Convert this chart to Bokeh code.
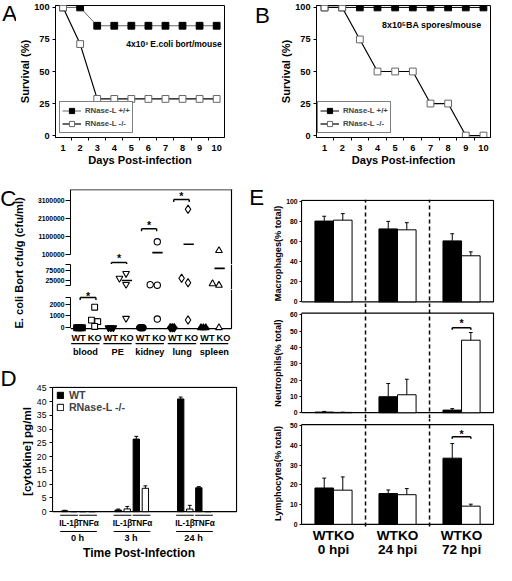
import math
from bokeh.plotting import figure
from bokeh.models import (Range1d, FixedTicker, Label, Legend, LegendItem, Span,
                          NumeralTickFormatter)
from bokeh.layouts import row, column
from bokeh.embed import file_html
from bokeh.resources import INLINE
from bokeh.core.properties import value

# ---------------- data ----------------
days = [1, 2, 3, 4, 5, 6, 7, 8, 9, 10]
surv_ticks = [0, 25, 50, 75, 100]
a_wt = [100, 100, 85.7, 85.7, 85.7, 85.7, 85.7, 85.7, 85.7, 85.7]
a_ko = [100, 71.4, 28.6, 28.6, 28.6, 28.6, 28.6, 28.6, 28.6, 28.6]
b_wt = [100, 100, 100, 100, 100, 100, 100, 100, 100, 100]
b_ko = [100, 100, 75, 50, 50, 50, 25, 25, 0, 0]
legend_labels = ["RNase-L +/+", "RNase-L -/-"]

organs = ["blood", "PE", "kidney", "lung", "spleen"]
genotypes = ["WT", "KO"]
blood_wt = [0, 0, 0, 0]
blood_ko = [1750, 650, 520, 110]
pe_wt = [0, 0, 0]
pe_ko = [36400, 59100, 7300, 795]
kidney_wt = [0, 0, 0]
kidney_ko = [5900, 3600, 809000, 738]
lung_wt = [0, 0, 0]
lung_ko = [36400, 15000, 2630000, 656]
spleen_wt = [0, 0, 0]
spleen_ko = [10500, 3000, 318000, 0]
c_top_ticks = [100000, 1100000, 2100000, 3100000]
c_mid_ticks = [25000, 75000]
c_bot_ticks = [0, 1000, 2000]

d_times = ["0 h", "3 h", "24 h"]
cytokines = ["IL-1\u03b2", "TNF\u03b1"]
d_legend = ["WT", "RNase-L -/-"]
il1b_wt = [0.3, 0.6, 41.0]
il1b_wt_err = [0.2, 0.35, 0.7]
il1b_ko = [0.0, 1.0, 0.95]
il1b_ko_err = [0.0, 0.9, 1.35]
tnf_wt = [0.0, 26.4, 8.7]
tnf_wt_err = [0.0, 1.0, 0.4]
tnf_ko = [0.0, 8.5, 0.0]
tnf_ko_err = [0.0, 0.9, 0.0]
d_ticks = [0, 5, 10, 15, 20, 25, 30, 35, 40, 45]

e_groups = ["0 hpi", "24 hpi", "72 hpi"]
mac_wt = [80.3, 72.5, 60.6]
mac_wt_err = [4.8, 7.5, 7.1]
mac_ko = [81.2, 71.6, 45.8]
mac_ko_err = [6.5, 7.1, 3.9]
neu_wt = [0.4, 9.8, 1.6]
neu_wt_err = [0.4, 8.1, 0.9]
neu_ko = [0.2, 11.0, 44.4]
neu_ko_err = [0.1, 9.5, 4.7]
lym_wt = [18.4, 15.6, 33.5]
lym_wt_err = [5.0, 1.8, 7.4]
lym_ko = [17.3, 15.0, 9.2]
lym_ko_err = [6.7, 3.1, 1.0]
mac_ticks = [0, 20, 40, 60, 80, 100]
neu_ticks = [0, 10, 20, 30, 40, 50, 60]
lym_ticks = [0, 10, 20, 30, 40, 50]
e_sig_level = [52, 44.4]
e_star_level = [56.5, 47]

# ---------------- layout helpers ----------------
K = 496 / 512
def S(v): return int(round(v * K))
def I(v): return int(round(v * K))
def F(px): return "%.1fpx" % (px * K)
FONT = "Liberation Sans"

# reference-pixel -> data maps for each sub plot (axis calibration)
def ctp(y): return 100000 + (261.7 - y) * 54550
def cm(y): return (294.3 - y) * 4545
def cb(y): return (337.7 - y) * 82
def dm(y): return (528 - y) / 2.844
def e1m(y): return (311 - y) / 1.034
def e2m(y): return (426 - y) / 1.695
def e3m(y): return (540.7 - y) / 2.028

def make_fig(w, h, left, right, top, bottom, xr, yr, outline="black", **kw):
    p = figure(width=w, height=h, x_range=xr, y_range=yr,
               min_border_left=left, min_border_right=right,
               min_border_top=top, min_border_bottom=bottom,
               output_backend="svg", toolbar_location=None, **kw)
    p.grid.visible = False
    p.outline_line_color = outline
    p.outline_line_width = 1
    p.background_fill_color = "white"
    p.border_fill_color = "white"
    return p

def blank_fig(w, h, xr=None, left=0, right=0):
    return make_fig(w, h, left, right, 0, 0, xr if xr is not None else Range1d(0, 1),
                    Range1d(0, 1), outline=None, x_axis_location=None, y_axis_location=None)

def style_axis(ax, size, bold=True, tick_out=3, standoff=3):
    ax.axis_line_color = "black"
    ax.axis_line_width = 1
    ax.major_tick_line_color = "black"
    ax.major_tick_out = I(tick_out)
    ax.major_tick_in = 0
    ax.minor_tick_line_color = None
    ax.major_label_text_font = FONT
    ax.major_label_text_font_size = F(size)
    ax.major_label_text_font_style = "bold" if bold else "normal"
    ax.major_label_text_color = "black"
    ax.major_label_standoff = I(standoff)
    ax.axis_label_text_font = FONT
    ax.axis_label_text_font_style = "bold"
    ax.axis_label_text_color = "black"

def label(p, x, y, text, size, bold=True, xu="screen", yu="screen", angle=0.0):
    p.add_layout(Label(x=x, y=y, x_units=xu, y_units=yu, text=text, text_font=FONT,
                       text_font_size=F(size), text_font_style="bold" if bold else "normal",
                       text_align="center", text_baseline="middle", angle=angle,
                       text_color="black"))

def dlabel(p, x, y, text, size):
    label(p, x, y, text, size, xu="data", yu="data")

def hseg(p, x0, x1, y, lw=1.2):
    p.segment(x0=[x0], x1=[x1], y0=[y], y1=[y], line_color="black", line_width=lw)

def err_bars(p, xs, tops, errs, cap_half):
    x0, y0, x1, y1 = [], [], [], []
    for x, t, e in zip(xs, tops, errs):
        if e <= 0:
            continue
        x0 += [x, x - cap_half]; y0 += [t, t + e]
        x1 += [x, x + cap_half]; y1 += [t + e, t + e]
    p.segment(x0=x0, y0=y0, x1=x1, y1=y1, line_color="black", line_width=1)

def bracket(p, x0, x1, lvl, leg, lw=1.5):
    p.segment(x0=[x0, x0, x1], y0=[lvl, lvl, lvl], x1=[x1, x0, x1],
              y1=[lvl, lvl - leg, lvl - leg], line_color="black", line_width=lw)

def star(p, x, y, size, shift=0.27):
    p.text(x=[x], y=[y], text=["*"], text_font=value(FONT), text_font_size=F(size),
           text_font_style="bold", text_align="center", text_baseline="middle",
           y_offset=shift * size * K, text_color="black")

def letter_fig(w, h, letter, cx, cy, left_ref, top_ref):
    p = blank_fig(w, h)
    label(p, (cx - left_ref) * K, h - (cy - top_ref) * K, letter, 23, bold=False)
    return p

# ---------------- panels A & B ----------------
def survival_panel(width, left, right, frame_left_ref, x_start, x_end, wt, ko, wt_line,
                   note, note_ref, note_size, legend_off):
    p = make_fig(width, S(188), left, right, S(5), S(188) - S(141),
                 Range1d(x_start, x_end), Range1d(-1.5, 101.5))
    l1 = p.line(days, wt, line_color=wt_line, line_width=1)
    m1 = p.scatter(days, wt, marker="square", size=7 * K, fill_color="black", line_color="black")
    l2 = p.line(days, ko, line_color="black", line_width=1.2)
    m2 = p.scatter(days, ko, marker="square", size=7 * K, fill_color="white",
                   line_color="#666666", line_width=1)
    xa = p.xaxis[0]
    style_axis(xa, 9.5, True, 0, 4)
    xa.ticker = FixedTicker(ticks=days, minor_ticks=[d + 0.5 for d in days[:-1]])
    xa.major_tick_line_color = None
    xa.minor_tick_line_color = "black"
    xa.minor_tick_out = I(3)
    xa.minor_tick_in = 0
    xa.axis_label = "Days Post-infection"
    xa.axis_label_text_font_size = F(11.5)
    xa.axis_label_standoff = 0
    ya = p.yaxis[0]
    style_axis(ya, 9.5, True, 3, 3)
    ya.ticker = FixedTicker(ticks=surv_ticks)
    ya.axis_label = "Survival (%)"
    ya.axis_label_text_font_size = F(11.5)
    ya.axis_label_standoff = 0
    label(p, (note_ref[0] - frame_left_ref) * K, (141 - note_ref[1]) * K, note, note_size)
    leg = Legend(items=[LegendItem(label=legend_labels[0], renderers=[l1, m1]),
                        LegendItem(label=legend_labels[1], renderers=[l2, m2])],
                 location=(legend_off[0] * K, legend_off[1] * K), orientation="vertical",
                 border_line_color="black", border_line_width=1, background_fill_color="white",
                 background_fill_alpha=1.0, padding=I(2), spacing=0, margin=0,
                 glyph_width=I(20), glyph_height=I(13), label_height=I(11), label_standoff=I(4),
                 label_text_font=FONT, label_text_font_size=F(8), label_text_font_style="bold")
    p.add_layout(leg)
    return p

la = letter_fig(S(17), S(188), "A", 9.5, 13.5, 0, 0)
pa = survival_panel(S(256) - S(17), S(53) - S(17), S(256) - S(231), 53, 0.555, 10.46,
                    a_wt, a_ko, "#666666", "4x10\u00b3 E.coli bort/mouse", (175.3, 44.3), 8.8, (4, 4))
lb = letter_fig(S(280) - S(256), S(188), "B", 270.5, 15, 256, 0)
pb = survival_panel(S(512) - S(280), S(326) - S(280), S(512) - S(506), 326, 0.545, 10.4,
                    b_wt, b_ko, "black", "8x10\u2075BA spores/mouse", (445, 25), 9.2, (1, 4))

# ---------------- panel C ----------------
cx = Range1d(-0.5, 9.56)
CW = S(256) - S(32)
CL = S(72.7) - S(32)
CR = S(256) - S(240)
c_top = make_fig(CW, S(272) - S(188), CL, CR, S(195) - S(188), 0, cx,
                 Range1d(ctp(272), ctp(195)), outline=None, x_axis_location=None)
c_mid = make_fig(CW, S(298) - S(272), CL, CR, 0, 0, cx,
                 Range1d(cm(298), cm(272)), outline=None, x_axis_location=None)
c_bot = make_fig(CW, S(378) - S(298), CL, CR, 0, 0, cx,
                 Range1d(cb(378), cb(298)), outline=None, x_axis_location=None)
c_upp = {id(c_top): 54550, id(c_mid): 4545, id(c_bot): 82}

for p, bounds, ticks, overrides in [
        (c_top, (100000, ctp(195)), c_top_ticks, {}),
        (c_mid, (0, 100000), [0] + c_mid_ticks + [100000], {0: "", 100000: ""}),
        (c_bot, (0, 2540), c_bot_ticks + [2540], {2540: ""})]:
    ya = p.yaxis[0]
    style_axis(ya, 7, True, 5, 1)
    ya.bounds = bounds
    ya.ticker = FixedTicker(ticks=ticks)
    ya.formatter = NumeralTickFormatter(format="0")
    ya.major_label_overrides = overrides
for p in (c_top, c_mid):
    p.add_layout(Span(location=9.5, dimension="height", line_color="black", line_width=1.2))
c_top.add_layout(Span(location=ctp(195), dimension="width", line_color="black", line_width=1.5))
# bottom axis line and right border of the lowest segment
c_axis_y = cb(338.7)
c_bot.segment(x0=[-0.5, 9.5], y0=[c_axis_y, c_axis_y], x1=[9.5, 9.5], y1=[c_axis_y, cb(298)],
              line_color="black", line_width=1.2)

c_wt = [blood_wt, pe_wt, kidney_wt, lung_wt, spleen_wt]
c_ko = [blood_ko, pe_ko, kidney_ko, lung_ko, spleen_ko]
c_wt_dx = [[-0.12, 0.0, 0.12, 0.24], [-0.14, 0.01, 0.16], [-0.2, -0.1, 0.0],
           [-0.3, -0.18, -0.06], [-0.4, -0.25, -0.1]]
c_ko_dx = [[0.0, -0.2, 0.19, 0.0], [-0.46, -0.05, -0.05, -0.05], [-0.55, -0.11, -0.11, -0.11],
           [-0.6, -0.2, -0.2, -0.2], [-0.68, -0.28, -0.28, -0.28]]
c_mean_dx = [0.0, 0.0, -0.1, -0.16, -0.24]
organ_markers = ["square", "inverted_triangle", "circle", "diamond", "triangle"]
organ_sizes = [6, 7, 6.5, 8.5, 7]

def c_panel(v):
    return c_bot if v <= 2540 else (c_mid if v <= 100000 else c_top)

for i in range(5):
    wt_mean = sum(c_wt[i]) / len(c_wt[i])
    ko_mean = sum(c_ko[i]) / len(c_ko[i])
    wt_c = 2 * i + sum(c_wt_dx[i]) / len(c_wt_dx[i])
    ko_c = 2 * i + 1 + c_mean_dx[i]
    c_panel(wt_mean).segment(x0=[wt_c - 0.32], x1=[wt_c + 0.32], y0=[wt_mean], y1=[wt_mean],
                             line_color="black", line_width=1.8)
    c_panel(ko_mean).segment(x0=[ko_c - 0.32], x1=[ko_c + 0.32], y0=[ko_mean], y1=[ko_mean],
                             line_color="black", line_width=1.6)
    for vals, dxs, base, fill in ((c_wt[i], c_wt_dx[i], 2 * i, "black"),
                                  (c_ko[i], c_ko_dx[i], 2 * i + 1, "white")):
        for p in (c_top, c_mid, c_bot):
            xs = [base + dx for v, dx in zip(vals, dxs) if c_panel(v) is p]
            ys = [v for v in vals if c_panel(v) is p]
            if xs:
                p.scatter(xs, ys, marker=organ_markers[i], size=organ_sizes[i] * K,
                          fill_color=fill, line_color="black", line_width=1.1)

# significance brackets (blood, PE, kidney, lung), positioned on the broken axis
sig_panel = [c_bot, c_top, c_top, c_top]
sig_level = [cb(306.3), ctp(270), ctp(235.3), ctp(205.3)]
star_level = [cb(301.3), ctp(264.5), ctp(229), ctp(199)]
star_shift = [0.27, 0.05, 0.27, 0.27]
sig_x0 = [0.1, 0.04, -0.09, -0.09]
sig_x1 = [0.08, -0.01, -0.15, -0.13]
for i in range(4):
    x0 = 2 * i + sig_x0[i]
    x1 = 2 * i + 1 + sig_x1[i]
    sp = sig_panel[i]
    bracket(sp, x0, x1, sig_level[i], 2.5 * c_upp[id(sp)], 1.4)
    star(sp, (x0 + x1) / 2, star_level[i], 11, star_shift[i])

for i in range(10):
    dlabel(c_bot, i, cb(348.3), genotypes[i % 2], 9.5)
for i, organ in enumerate(organs):
    hseg(c_bot, 2 * i - 0.46, 2 * i + 1.3, cb(354.3), 1.3)
    dlabel(c_bot, 2 * i + 0.43, cb(363.3), organ, 9.5)

ct = blank_fig(S(32), S(378) - S(188))
label(ct, 8 * K, (S(378) - S(188)) - (204 - 188) * K, "C", 23, bold=False)
label(ct, 19.5 * K, (S(378) - S(188)) - (271 - 188) * K, "E. coli Bort cfu/g (cfu/ml)", 11.5,
      angle=math.pi / 2)

# ---------------- panel D ----------------
dx_range = Range1d(-1.05, 19.37)
DW = S(256) - S(17)
DL = S(51) - S(17)
DR = S(256) - S(245)
pd = make_fig(DW, S(533) - S(378), DL, DR, S(398.5) - S(378), 0, dx_range,
              Range1d(dm(533), dm(398.5)), outline=None, x_axis_location=None)
ya = pd.yaxis[0]
style_axis(ya, 9, False, 3, 3)
ya.bounds = (0, 45.2)
ya.ticker = FixedTicker(ticks=d_ticks)
ya.axis_label = "[cytokine] pg/ml"
ya.axis_label_text_font_size = F(12)
ya.axis_label_standoff = I(1)
pd.quad(left=[-1.05], right=[19.27], bottom=[0], top=[45.2], fill_color=None,
        line_color="black", line_width=1.2)

d_group_start = [0.3, 6.2, 13.1]
d_series = [(il1b_wt, il1b_wt_err, 0, "black"), (il1b_ko, il1b_ko_err, 1, "white"),
            (tnf_wt, tnf_wt_err, 2, "black"), (tnf_ko, tnf_ko_err, 3, "white")]
d_rends = []
for vals, errs, slot, fill in d_series:
    xs = [g + slot for g in d_group_start]
    err_bars(pd, xs, vals, errs, 0.21)
    r = pd.vbar(x=xs, top=vals, width=0.7, fill_color=fill, line_color="black", line_width=1)
    d_rends.append(r)
dleg = Legend(items=[LegendItem(label=d_legend[0], renderers=[d_rends[0]]),
                     LegendItem(label=d_legend[1], renderers=[d_rends[1]])],
              location=(4 * K, (528 - 426.3) * K + (533 - 528) * K), border_line_color=None,
              background_fill_alpha=0, padding=0, spacing=0, margin=0,
              glyph_width=I(8), glyph_height=I(8), label_height=I(12), label_standoff=I(5),
              label_text_font=FONT, label_text_font_size=F(11), label_text_font_style="bold")
pd.add_layout(dleg)

d_lab = make_fig(DW, S(581) - S(533), DL, DR, 0, 0, dx_range, Range1d(dm(581), dm(533)),
                 outline=None, x_axis_location=None, y_axis_location=None)
for g, name in zip(d_group_start, d_times):
    hseg(pd, g - 0.5, g + 1.45, dm(531.7), 1.2)
    hseg(pd, g + 1.6, g + 3.55, dm(531.7), 1.2)
    dlabel(d_lab, g + 0.48, dm(540), cytokines[0], 8.5)
    dlabel(d_lab, g + 2.6, dm(540), cytokines[1], 8.5)
    hseg(d_lab, g - 0.5, g + 3.55, dm(548.3), 1.2)
    dlabel(d_lab, g + 1.42, dm(554.5), name, 9.5)
dlabel(d_lab, 8.5, dm(570), "Time Post-Infection", 12.5)

ld = letter_fig(S(17), S(581) - S(378), "D", 8.4, 390, 0, 378)

# ---------------- panel E ----------------
ex = Range1d(0, 3.015)
EW = S(512) - S(272)
EL = S(310.3) - S(272)
ER = S(512) - S(510)

def e_panel(h, top, yr, box_top, ticks, title, wt, wt_err, ko, ko_err, title_standoff, dash_lo):
    p = make_fig(EW, h, EL, ER, top, 0, ex, Range1d(*yr), outline=None, x_axis_location=None)
    ax = p.yaxis[0]
    style_axis(ax, 7, True, 2, 2)
    ax.bounds = (0, box_top)
    ax.ticker = FixedTicker(ticks=ticks)
    ax.axis_label = title
    ax.axis_label_text_font_size = F(9.5)
    ax.axis_label_standoff = I(title_standoff)
    p.quad(left=[0], right=[3], bottom=[0], top=[box_top], fill_color=None,
           line_color="black", line_width=1.2)
    centers = [g + 0.5 for g in range(len(e_groups))]
    xw = [c - 0.145 for c in centers]
    xk = [c + 0.145 for c in centers]
    err_bars(p, xw, wt, wt_err, 0.03)
    err_bars(p, xk, ko, ko_err, 0.03)
    p.vbar(x=xw, top=wt, width=0.29, fill_color="black", line_color="black", line_width=1)
    p.vbar(x=xk, top=ko, width=0.29, fill_color="white", line_color="black", line_width=1)
    p.segment(x0=[1, 2], x1=[1, 2], y0=[dash_lo, dash_lo], y1=[yr[1], yr[1]],
              line_color="black", line_width=1.5, line_dash="4 3")
    return p

e1 = e_panel(S(316.8) - S(188), S(205.8) - S(188), (e1m(316.8), e1m(205.8)), e1m(206.8),
             mac_ticks, "Macrophages(% total)", mac_wt, mac_wt_err, mac_ko, mac_ko_err, 0,
             e1m(316.8))
e2 = e_panel(S(432) - S(316.8), 0, (e2m(432), e2m(316.8)), e2m(322.7),
             neu_ticks, "Neutrophils(% total)", neu_wt, neu_wt_err, neu_ko, neu_ko_err, 4,
             e2m(432))
e3 = e_panel(S(545) - S(432), 0, (e3m(545), e3m(432)), e3m(438.3),
             lym_ticks, "Lymphocytes(% total)", lym_wt, lym_wt_err, lym_ko, lym_ko_err, 4,
             e3m(543))

bracket(e2, 2.355, 2.645, e_sig_level[0], 1.2, 1.5)
star(e2, 2.5, e_star_level[0], 11)
bracket(e3, 2.355, 2.645, e_sig_level[1], 1.0, 1.5)
star(e3, 2.5, e_star_level[1], 11)

e_lab = make_fig(EW, S(581) - S(545), EL, ER, 0, 0, ex, Range1d(e3m(581), e3m(545)),
                 outline=None, x_axis_location=None, y_axis_location=None)
for g, name in enumerate(e_groups):
    dlabel(e_lab, g + 0.5, e3m(551.7), "WTKO", 14)
    dlabel(e_lab, g + 0.5, e3m(566.7), name, 14)

le = letter_fig(S(272) - S(256), S(581) - S(188), "E", 264.5, 203.5, 256, 188)

# ---------------- assemble ----------------
# letters are wrapped in their own columns so that their frames are not aligned with the plots
top_row = row(column(la), column(pa), column(lb), column(pb))
c_block = row(ct, column(c_top, c_mid, c_bot))
d_block = row(ld, column(pd, d_lab))
left_col = column(c_block, d_block)
right_col = row(le, column(e1, e2, e3, e_lab))
layout = column(top_row, row(left_col, right_col))

open("out.html", "w").write(file_html(layout, INLINE))
